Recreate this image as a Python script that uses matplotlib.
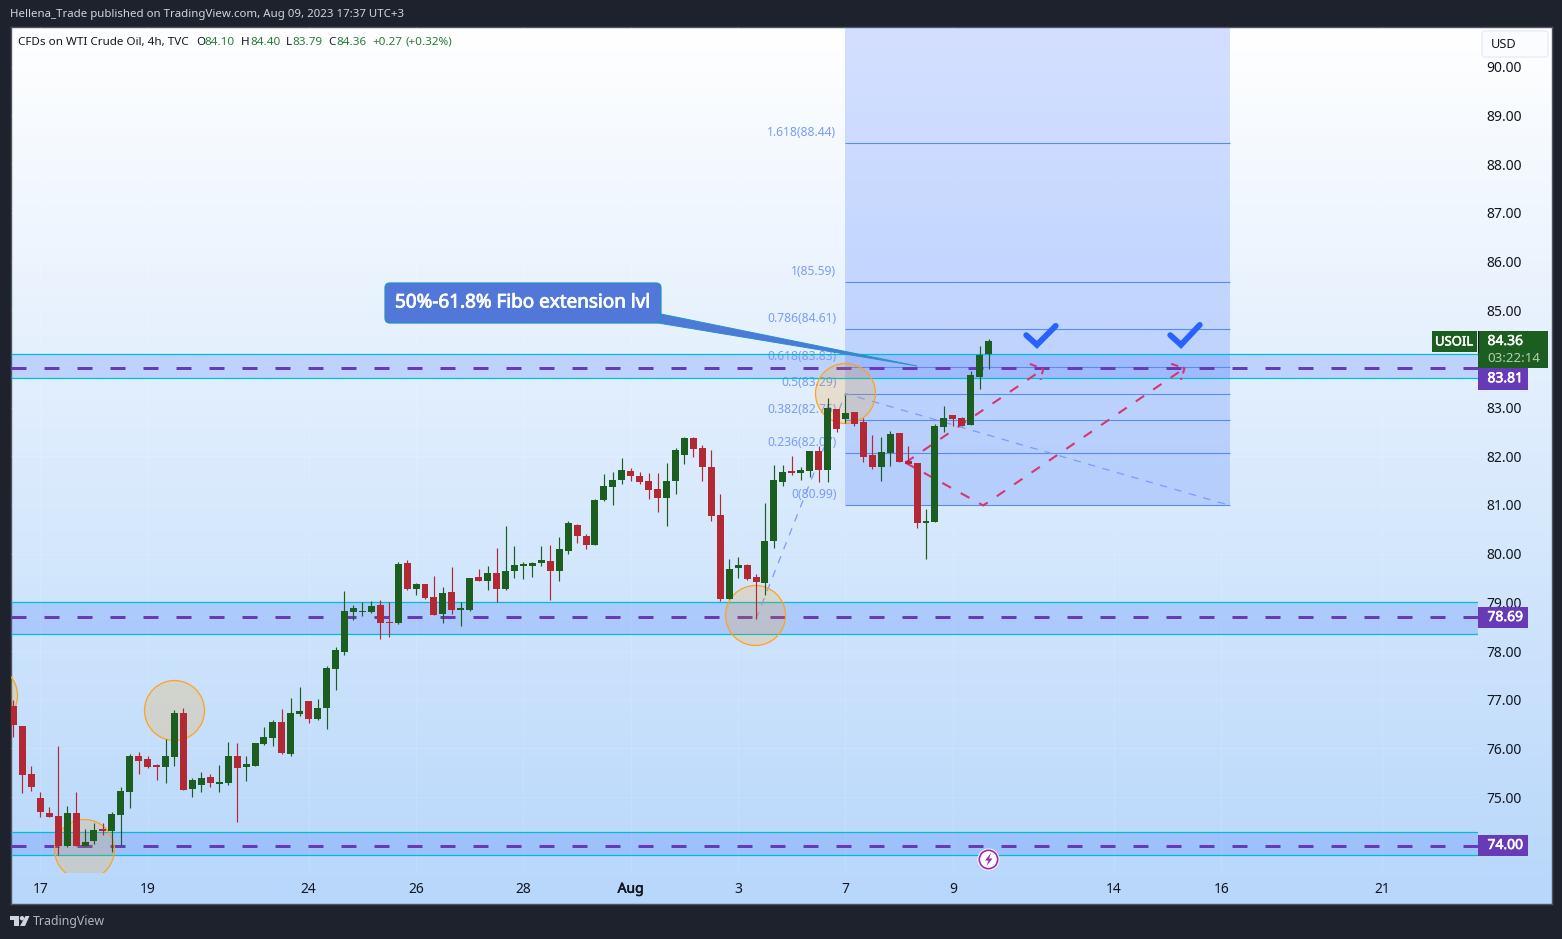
#!/usr/bin/env python3
"""USOIL 4h chart with fibo extension levels, TradingView look."""
import matplotlib
matplotlib.use("Agg")
import matplotlib.patheffects as pe
import matplotlib.pyplot as plt
import numpy as np
from matplotlib.patches import Circle, FancyBboxPatch, Polygon, Rectangle

W, H = 1562, 939
plt.rcParams["font.family"] = ["Noto Sans", "DejaVu Sans"]

# ---------- data ----------
first_bar = -3
opens = [
    76.87, 76.46, 75.47, 74.98, 74.67, 74.61, 73.99, 74.67, 74.00, 74.10,
    74.34, 74.30, 74.63, 75.10, 75.84, 75.78, 75.66, 75.62, 75.82, 76.73,
    75.16, 75.25, 75.41, 75.27, 75.29, 75.84, 75.62, 75.64, 76.09, 76.21,
    76.54, 75.88, 76.71, 76.97, 76.60, 76.83, 77.63, 77.98, 78.80, 78.81,
    78.80, 78.95, 78.60, 78.57, 79.81, 79.27, 79.38, 79.11, 78.76, 79.21,
    78.84, 78.84, 79.52, 79.44, 79.60, 79.27, 79.65, 79.75, 79.75, 79.81,
    79.85, 79.65, 80.06, 80.59, 80.37, 80.18, 81.11, 81.37, 81.51, 81.70,
    81.60, 81.49, 81.33, 81.15, 81.49, 82.03, 82.38, 82.17, 81.78, 80.79,
    79.07, 79.70, 79.77, 79.52, 79.40, 80.26, 81.47, 81.70, 81.66, 81.70,
    82.11, 81.72, 82.97, 82.77, 82.91, 82.70, 82.03, 81.78, 82.07, 82.48,
    81.90, 81.86, 80.63, 80.65, 82.60, 82.85, 82.79, 82.64, 83.63, 84.10,
]
highs = [
    76.99, 76.46, 75.64, 75.10, 74.79, 76.05, 74.82, 75.10, 74.34, 74.47,
    74.47, 74.69, 75.21, 75.88, 75.92, 75.84, 75.68, 76.19, 76.79, 76.83,
    75.39, 75.51, 75.47, 75.66, 76.13, 76.11, 75.84, 76.11, 76.44, 76.58,
    76.81, 77.03, 77.26, 76.97, 77.01, 77.69, 78.08, 79.23, 78.95, 79.01,
    79.03, 79.05, 79.01, 79.83, 79.87, 79.40, 79.38, 79.54, 79.31, 79.72,
    79.01, 79.50, 79.68, 79.75, 80.12, 80.57, 80.16, 79.83, 79.83, 80.16,
    80.18, 80.35, 80.67, 80.61, 80.41, 81.13, 81.64, 81.68, 81.97, 81.76,
    81.68, 81.66, 81.66, 81.87, 82.17, 82.40, 82.40, 82.24, 82.13, 81.22,
    79.89, 79.93, 79.79, 79.58, 81.04, 81.82, 81.82, 82.01, 81.78, 82.11,
    82.21, 83.20, 82.97, 83.26, 82.91, 82.79, 82.44, 82.40, 82.52, 82.48,
    82.21, 81.86, 80.92, 82.66, 83.03, 82.85, 82.81, 83.75, 84.27, 84.40,
]
lows = [
    76.24, 75.09, 75.13, 74.60, 74.58, 73.81, 73.98, 74.00, 74.00, 74.04,
    74.22, 73.87, 74.01, 74.77, 75.47, 75.60, 75.35, 75.29, 75.64, 75.14,
    75.00, 75.10, 75.21, 75.10, 75.25, 74.49, 75.33, 75.64, 76.07, 76.05,
    75.88, 75.84, 76.66, 76.52, 76.58, 76.40, 77.20, 77.92, 78.64, 78.72,
    78.78, 78.25, 78.29, 78.55, 79.25, 79.15, 79.07, 78.74, 78.57, 78.76,
    78.51, 78.82, 79.44, 79.25, 79.01, 79.25, 79.50, 79.48, 79.52, 79.75,
    79.05, 79.44, 80.00, 80.22, 80.10, 80.18, 81.08, 81.00, 81.43, 81.49,
    81.43, 81.13, 80.86, 80.57, 81.23, 81.84, 81.99, 81.49, 80.67, 79.03,
    79.07, 79.50, 79.46, 78.66, 79.15, 80.12, 81.39, 81.62, 81.51, 81.58,
    81.47, 81.47, 82.50, 82.68, 82.62, 81.88, 81.74, 81.49, 81.80, 81.88,
    81.84, 80.53, 79.89, 80.65, 82.50, 82.62, 82.62, 82.64, 83.38, 83.79,
]
closes = [
    76.47, 75.46, 75.21, 74.70, 74.59, 74.00, 74.67, 74.00, 74.08, 74.32,
    74.30, 74.65, 75.12, 75.84, 75.74, 75.62, 75.62, 75.84, 76.73, 75.14,
    75.35, 75.39, 75.29, 75.31, 75.84, 75.60, 75.68, 76.11, 76.23, 76.54,
    75.90, 76.73, 76.77, 76.60, 76.83, 77.65, 78.02, 78.82, 78.88, 78.82,
    78.92, 78.57, 78.58, 79.79, 79.27, 79.38, 79.09, 78.74, 79.19, 78.84,
    78.88, 79.50, 79.44, 79.60, 79.27, 79.65, 79.77, 79.79, 79.81, 79.87,
    79.65, 80.10, 80.63, 80.37, 80.18, 81.11, 81.39, 81.51, 81.72, 81.60,
    81.47, 81.31, 81.15, 81.49, 82.13, 82.38, 82.15, 81.78, 80.77, 79.07,
    79.68, 79.77, 79.48, 79.42, 80.26, 81.51, 81.68, 81.66, 81.72, 82.11,
    81.72, 82.99, 82.56, 82.89, 82.66, 81.98, 81.78, 82.09, 82.46, 81.88,
    81.84, 80.63, 80.67, 82.62, 82.79, 82.77, 82.62, 83.67, 84.08, 84.36,
]

date_ticks = [0, 12, 30, 42, 54, 66, 78, 90, 102, 120, 132, 150]
date_labels = ["17", "19", "24", "26", "28", "Aug", "3", "7", "9", "14", "16", "21"]
# 84.00 and 74.00 sit behind the price tags in the original
price_ticks = [75, 76, 77, 78, 79, 80, 81, 82, 83, 85, 86, 87, 88, 89, 90]

# support / resistance zones: (low, high), dashed mid level
zone_lows = [83.61, 78.35, 73.81]
zone_highs = [84.10, 79.01, 74.28]
zone_levels = [83.81, 78.69, 74.00]

# fibo extension tool
fib_start, fib_end = 90, 133
fib_ratios = ["1.618", "1", "0.786", "0.618", "0.5", "0.382", "0.236", "0"]
fib_levels = [88.44, 85.59, 84.61, 83.83, 83.29, 82.75, 82.07, 80.99]
trend_x = [80, 90, 133]
trend_y = [78.66, 83.29, 80.99]

# projected path sketches
path1_x, path1_y = [96.7, 112.1], [81.87, 83.79]
path2_x, path2_y = [96.7, 105.4, 127.9], [81.87, 80.99, 83.81]
head1_x, head1_y = [110.6, 112.1, 111.8], [83.90, 83.79, 83.57]
head2_x, head2_y = [126.4, 127.9, 127.5], [83.90, 83.81, 83.57]
check1_x, check1_y = [110.2, 111.4, 113.5], [84.49, 84.29, 84.68]
check2_x, check2_y = [126.3, 127.5, 129.6], [84.49, 84.29, 84.70]

circle_x = [14.97, 4.88, -5.95, 79.9, 89.94]
circle_y = [76.79, 73.93, 77.10, 78.74, 83.30]

# ---------- colours ----------
DARK = "#1e222d"
GREEN = "#1b5e20"
LEGEND_GREEN = "#2b7a3a"
RED = "#b22833"
PURPLE = "#673ab7"
CYAN = "#00bcd4"
FIB = "#5c8af5"
FIB_TXT = "#7b9cf8"
PINK = "#d6376e"
BLUE = "#2962ff"

fig = plt.figure(figsize=(W / 100, H / 100), dpi=100, facecolor=DARK)


def px_axes(x0, y0, x1, y1, **kw):
    return fig.add_axes([x0 / W, 1 - y1 / H, (x1 - x0) / W, (y1 - y0) / H], **kw)


def heavy(width=0.45, color="white"):
    # Noto Sans has no bold face here, so thicken with a stroke
    return [pe.withStroke(linewidth=width, foreground=color)]


# panel background (white to light blue)
bg = px_axes(10.5, 27, 1551.5, 904, zorder=0)
grad = np.linspace(0, 1, 256)[:, None, None]
top = np.array([255, 255, 255]) / 255
bottom = np.array([183, 215, 251]) / 255
bg.imshow(top + (bottom - top) * grad, aspect="auto", extent=[0, 1, 0, 1])
bg.set_xticks([])
bg.set_yticks([])
for s in bg.spines.values():
    s.set_color("#50535e")
    s.set_linewidth(1)

# main chart
ax = px_axes(11, 27, 1478, 872, zorder=1)
ax.patch.set_alpha(0)
ax.set_xlim(-3.275, 160.7)
ax.set_ylim(73.46, 90.82)
for s in ax.spines.values():
    s.set_visible(False)
ax.yaxis.tick_right()
ax.set_yticks(price_ticks)
ax.set_yticklabels([f"{p:.2f}" for p in price_ticks], fontsize=10, color="#131722")
ax.set_xticks(date_ticks)
ax.set_xticklabels(date_labels, fontsize=10, color="#131722")
ax.get_xticklabels()[5].set_path_effects(heavy(0.4, "#131722"))
ax.tick_params(axis="both", length=0)
ax.tick_params(axis="y", pad=6.2)
ax.tick_params(axis="x", pad=7)
ax.grid(color="white", alpha=0.12, linewidth=0.8)
ax.set_axisbelow(True)

# fibo block
ax.fill_between([fib_start, fib_end], fib_levels[-1], 90.82, color=BLUE, alpha=0.2,
                linewidth=0, zorder=1.2)
ax.hlines(fib_levels, fib_start, fib_end, color=FIB, linewidth=0.8, zorder=1.4)
for ratio, lvl in zip(fib_ratios, fib_levels):
    ax.annotate(f"{ratio}({lvl:.2f})", (fib_start, lvl), xytext=(-6.5, 7.6),
                textcoords="offset points", ha="right", va="center",
                fontsize=8.7, color=FIB_TXT, zorder=1.5)

# zones
x_lo, x_hi = ax.get_xlim()
for lo, hi, lvl in zip(zone_lows, zone_highs, zone_levels):
    ax.fill_between([x_lo, x_hi], lo, hi, color=BLUE, alpha=0.2, linewidth=0, zorder=1.3)
    ax.hlines([lo, hi], x_lo, x_hi, color=CYAN, linewidth=0.9, zorder=1.6)
    ax.plot([x_lo, x_hi], [lvl, lvl], color=PURPLE, linewidth=2.16,
            linestyle=(0, (5, 6)), zorder=1.7)

# trend and projections
ax.plot(trend_x, trend_y, color=FIB_TXT, linewidth=0.9, linestyle=(0, (6, 6)), zorder=1.8)
for xs, ys in [(path1_x, path1_y), (path2_x, path2_y)]:
    ax.plot(xs, ys, color=PINK, linewidth=1.5, linestyle=(0, (4.8, 5.3)), zorder=1.85)
for xs, ys in [(head1_x, head1_y), (head2_x, head2_y)]:
    ax.plot(xs, ys, color=PINK, linewidth=1.5, linestyle=(0, (3.6, 2.2)), zorder=1.85)
for xs, ys in [(check1_x, check1_y), (check2_x, check2_y)]:
    ax.plot(xs, ys, color=BLUE, linewidth=4.2, solid_capstyle="round",
            solid_joinstyle="miter", zorder=1.9)

# highlight circles
ax.scatter(circle_x, circle_y, s=(60 * 0.72) ** 2, facecolors=[(1, 0.6, 0, 0.18)],
           edgecolors="#ffa31a", linewidths=0.9, zorder=1.95)

# candles
bars = np.arange(first_bar, first_bar + len(opens))
o, h, l, c = map(np.array, (opens, highs, lows, closes))
colors = [GREEN if cl >= op else RED for op, cl in zip(o, c)]
ax.vlines(bars, l, h, colors=colors, linewidth=0.85, zorder=3)
ax.bar(bars, np.abs(c - o), bottom=np.minimum(o, c), width=0.78, color=colors,
       linewidth=0, zorder=3.1)

# overlay in pixel coordinates for chart chrome
ui = px_axes(0, 0, W, H, zorder=5)
ui.set_xlim(0, W)
ui.set_ylim(H, 0)
ui.axis("off")
ui.patch.set_alpha(0)

ui.text(10, 15, "Hellena_Trade published on TradingView.com, Aug 09, 2023 17:37 UTC+3",
        color="#d1d4dc", fontsize=8.25, va="center")

# legend line
for x, txt, col in [
    (18, "CFDs on WTI Crude Oil, 4h, TVC", "#131722"),
    (196, "O", "#131722"), (204, "84.10", LEGEND_GREEN),
    (241, "H", "#131722"), (250, "84.40", LEGEND_GREEN),
    (286, "L", "#131722"), (292, "83.79", LEGEND_GREEN),
    (328, "C", "#131722"), (336, "84.36", LEGEND_GREEN),
    (372, "+0.27", LEGEND_GREEN), (406, "(+0.32%)", LEGEND_GREEN),
]:
    ui.text(x, 42.5, txt, color=col, fontsize=8.4, va="center")

# callout
ui.add_patch(Polygon([(652, 322), (661, 314), (917, 366)], closed=True, facecolor="#4f78d9",
                     edgecolor="#2196c9", linewidth=0.7))
ui.add_patch(FancyBboxPatch((390, 288), 266, 30, boxstyle="round,pad=5,rounding_size=5",
                            facecolor="#5177d8", edgecolor="#2a8fc9", linewidth=0.9))
ui.text(395, 302.5, "50%-61.8% Fibo extension lvl", color="white", fontsize=13.6,
        va="center", path_effects=heavy(0.6))

# bolt marker
ui.add_patch(Circle((988.5, 859.5), 11, facecolor="white", edgecolor="none"))
ui.add_patch(Circle((988.5, 859.5), 9.2, facecolor="white", edgecolor="#9c27b0", linewidth=1.2))
ui.add_patch(Polygon([(991, 853), (985, 860.5), (988.5, 860.5), (986.5, 866), (992.5, 858.5),
                      (989, 858.5)], closed=True, facecolor="#9c27b0", edgecolor="none"))

# USD box
ui.add_patch(FancyBboxPatch((1484, 33), 62, 22, boxstyle="round,pad=2,rounding_size=3",
                            facecolor="#fbfcff", edgecolor="#e8ecf5", linewidth=1))
ui.text(1491, 45, "USD", color="#131722", fontsize=9.2, va="center")

# price tags
for y0, y1, txt in [(607, 628, "78.69"), (835, 856, "74.00"), (368, 389.5, "83.81")]:
    ui.add_patch(Rectangle((1478, y0), 50, y1 - y0, facecolor=PURPLE, edgecolor="none"))
    ui.text(1487.5, (y0 + y1) / 2, txt, color="white", fontsize=10, va="center",
            path_effects=heavy(0.45))
ui.add_patch(Rectangle((1432, 331), 45, 21, facecolor=GREEN, edgecolor="none"))
ui.text(1435, 342, "USOIL", color="white", fontsize=9.4, va="center", path_effects=heavy(0.35))
ui.add_patch(Rectangle((1478, 331), 70, 37, facecolor=GREEN, edgecolor="none"))
ui.plot([1477.5, 1477.5], [331, 352], color="#131722", linewidth=0.8)
ui.text(1487.5, 341.5, "84.36", color="white", fontsize=10, va="center",
        path_effects=heavy(0.35))
ui.text(1487.5, 358.5, "03:22:14", color="#b5ccb6", fontsize=9.6, va="center")

# TradingView logo
logo = "#d1d4dc"
ui.add_patch(Rectangle((10, 916), 9, 4, facecolor=logo, edgecolor="none"))
ui.add_patch(Rectangle((14, 916), 5, 10, facecolor=logo, edgecolor="none"))
ui.add_patch(Circle((22, 918.2), 2.2, facecolor=logo, edgecolor="none"))
ui.add_patch(Polygon([(25.5, 916), (29.5, 916), (25, 926), (20, 926)], closed=True,
                     facecolor=logo, edgecolor="none"))
ui.text(33, 921.5, "TradingView", color="#b2b5be", fontsize=8.9, va="center")

fig.savefig("out.png", dpi=100, facecolor=DARK)
